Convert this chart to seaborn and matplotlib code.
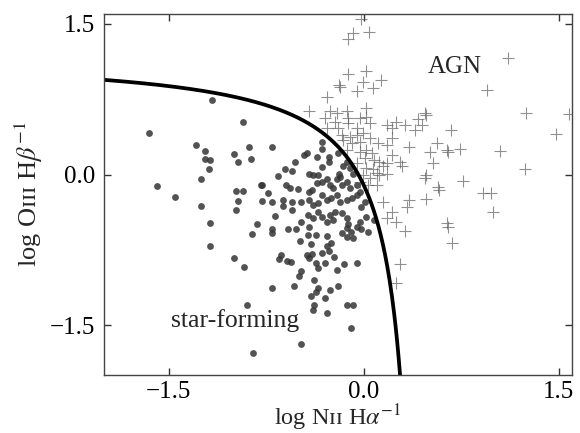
import numpy as np
import seaborn as sns
import matplotlib
matplotlib.use('Agg')
import matplotlib.pyplot as plt

# star-forming galaxies (dots)
sf_x = [-1.17, -0.93, -1.65, -1.29, -1.22, -1.22, -1.18, -1.19, -1.25, -1.00, -0.97, -0.88,
        -0.87, -1.59, -1.45, -1.25, -0.98, -0.93, -0.97, -0.98, -0.79, -0.78, -1.18, -0.82,
        -0.86, -1.18, -1.00, -0.92, -0.90, -0.85,
        -0.71, -0.71, -0.58, -0.52, -0.42, -0.43, -0.37, -0.28, -0.49, -0.41, -0.25, -0.28,
        -0.17, -0.13, -0.10, -0.08, -0.02, 0.03, -0.12,
        -0.64, -0.65, -0.59, -0.56, -0.44, -0.40, -0.42, -0.32, -0.27, -0.23, -0.37, -0.35,
        -0.30, -0.15, -0.21, -0.05, -0.48, -0.50, -0.38, -0.71, -0.54, -0.35, -0.37, -0.26,
        -0.20, -0.41, -0.30, -0.38, -0.39, -0.28, -0.13, -0.08, -0.10, -0.48,
        -0.71, -0.46, -0.44, -0.53, -0.36, -0.32, -0.32, -0.27, -0.27, -0.20, -0.61, -0.55,
        -0.66, -0.42, -0.39, -0.35, -0.32, -0.19, -0.18, -0.16, -0.13, -0.11, -0.08, -0.78,
        -0.74, -0.60, -0.57, -0.51,
        -0.71, -0.62, -0.62, -0.55, -0.55, -0.48, -0.42, -0.40, -0.36, -0.32, -0.28, -0.26,
        -0.24, -0.21, -0.17, -0.13, -0.11, -0.05, -0.03, -0.42, -0.39, -0.35, -0.32, -0.28,
        -0.25, -0.21, -0.18, -0.13, -0.09, -0.05, 0.01, -0.68, -0.48, -0.43, -0.39, -0.35,
        -0.32, -0.26, -0.22, -0.17, -0.13, -0.28, -0.24, -0.03, 0.02,
        -0.13, -0.05, 0.08, -0.02]
sf_y = [0.74, 0.52, 0.41, 0.29, 0.23, 0.15, 0.14, 0.06, -0.04, 0.20, 0.12, 0.27,
        0.15, -0.11, -0.22, -0.31, -0.16, -0.16, -0.26, -0.35, -0.10, -0.26, -0.48, -0.49,
        -0.59, -0.71, -0.83, -0.92, -1.30, -1.78,
        -0.54, -0.58, -0.54, -0.54, -0.52, -0.60, -0.60, -0.61, -0.66, -0.69, -0.68, -0.71,
        -0.58, -0.62, -0.57, -0.63, -0.54, -0.57, -0.49,
        -0.80, -0.84, -0.86, -0.87, -0.80, -0.79, -0.83, -0.78, -0.76, -0.82, -0.88, -0.93,
        -0.88, -0.89, -0.95, -0.88, -0.96, -1.01, -1.05, -1.13, -1.11, -1.13, -1.17, -1.15,
        -1.11, -1.21, -1.23, -1.30, -1.35, -1.38, -1.30, -1.30, -1.53, -1.69,
        0.27, 0.19, 0.21, 0.12, 0.17, 0.32, 0.25, 0.17, 0.12, 0.21, 0.06, 0.04,
        -0.01, 0.01, 0.00, -0.00, 0.08, 0.01, -0.02, 0.09, 0.12, 0.07, 0.01, -0.10,
        -0.18, -0.10, -0.13, -0.14,
        -0.27, -0.25, -0.31, -0.27, -0.35, -0.27, -0.17, -0.15, -0.08, -0.07, -0.04, -0.10,
        -0.13, -0.04, -0.10, -0.07, -0.13, -0.10, -0.17, -0.25, -0.30, -0.28, -0.20, -0.25,
        -0.23, -0.20, -0.27, -0.25, -0.23, -0.20, -0.27, -0.41, -0.47, -0.40, -0.43, -0.37,
        -0.42, -0.40, -0.37, -0.38, -0.43, -0.47, -0.45, -0.47, -0.42,
        -0.53, -0.52, -0.45, -0.32]

# AGN (plus markers)
agn_x = [-0.02, -0.08, -0.12, 0.04, 0.02, -0.12, -0.19, -0.18, -0.01, 0.13, 0.47,
         -0.05, 0.07, -0.28, 0.02, -0.42, -0.26, -0.21, -0.13, -0.30, -0.22, -0.12, -0.03,
         0.02, 0.05, -0.28, -0.20, -0.12, -0.05, -0.17, -0.11, -0.05, -0.01, 0.18, 0.22,
         0.25, -0.16, -0.09, -0.03, 0.05, 0.11, 0.18, 0.22, -0.13, -0.03, 0.02, 0.06,
         0.01, 0.08, 0.12, 0.15, -0.05, 0.02, 0.07, 0.10, -0.01, 0.05, 0.12, 0.18,
         -0.03, 0.03, 0.10, 0.15, 0.22, 0.18, 0.25,
         0.32, 0.42, 0.48, 0.45, 0.39, 0.35, 0.56, 0.51, 0.64, 0.53, 0.28, 0.29,
         0.48, 0.47, 0.57, 0.58, 0.35, 0.48, 0.33, 0.32, 0.64, 0.22, 0.18,
         1.25, 1.58, 0.67, 1.48, 0.65, 0.74, 1.05, 1.24, 0.76, 0.92, 0.98, 0.99, 0.65,
         1.11, 0.95, 0.68, 0.28, 0.25]
agn_y = [1.55, 1.41, 1.35, 1.42, 1.03, 1.00, 0.89, 0.87, 0.92, 0.94, 0.61,
         0.83, 0.86, 0.77, 0.66, 0.63, 0.63, 0.61, 0.63, 0.56, 0.52, 0.56, 0.56,
         0.57, 0.51, 0.46, 0.46, 0.51, 0.46, 0.39, 0.37, 0.39, 0.41, 0.49, 0.46,
         0.52, 0.34, 0.31, 0.32, 0.36, 0.31, 0.29, 0.36, 0.24, 0.22, 0.24, 0.21,
         0.16, 0.14, 0.12, 0.09, 0.11, 0.07, 0.06, 0.02, -0.00, -0.03, -0.00, 0.01,
         -0.07, -0.10, -0.10, -0.27, -0.37, -0.43, -0.47,
         0.49, 0.55, 0.59, 0.49, 0.44, 0.27, 0.31, 0.22, 0.24, 0.11, 0.12, 0.09,
         -0.00, -0.03, -0.12, -0.15, -0.25, -0.24, -0.32, -0.56, -0.48, 0.19, 0.11,
         0.61, 0.60, 0.44, 0.40, 0.22, 0.25, 0.23, 0.06, -0.06, -0.18, -0.18, -0.37, -0.52,
         1.16, 0.84, -0.68, -0.89, -1.08]

# Kewley et al. (2001) maximum starburst line
kew_x = np.linspace(-2.0, 0.29, 400)
kew_y = 0.61 / (kew_x - 0.47) + 1.19

sns.set_style('ticks')
plt.rcParams['font.family'] = ['Liberation Serif', 'DejaVu Serif']
plt.rcParams['mathtext.fontset'] = 'stix'

fig = plt.figure(figsize=(5.8, 4.33), dpi=100)
ax = fig.add_axes([0.179, 0.133, 0.807, 0.835])

sns.scatterplot(x=sf_x, y=sf_y, color='#353535', s=24, linewidth=0, alpha=0.85, ax=ax)
sns.scatterplot(x=agn_x, y=agn_y, marker='+', color='#555555', s=75, linewidth=0.8,
                alpha=0.65, ax=ax)
sns.lineplot(x=kew_x, y=kew_y, color='black', lw=2.7, sort=False, estimator=None, ax=ax)

ax.set_xlim(-2.0, 1.6)
ax.set_ylim(-2.0, 1.6)
ax.set_xticks([-1.5, 0.0, 1.5])
ax.set_yticks([-1.5, 0.0, 1.5])
ax.tick_params(direction='in', top=True, right=True, length=5, width=1,
               labelsize=18, pad=6, colors='#333333', labelcolor='black')
ax.tick_params(axis='x', pad=4)
for sp in ax.spines.values():
    sp.set_color('#444444')
    sp.set_linewidth(1.0)

ax.set_xlabel('log Nɪɪ H$\\alpha^{-1}$', fontsize=17.5, labelpad=0)
ax.set_ylabel('log Oɪɪɪ H$\\beta^{-1}$', fontsize=19, labelpad=4)

ax.text(0.70, 1.07, 'AGN', fontsize=18, ha='center', va='center')
ax.text(-0.99, -1.52, 'star-forming', fontsize=18.5, ha='center', va='baseline')

fig.savefig('out.png', dpi=100)
